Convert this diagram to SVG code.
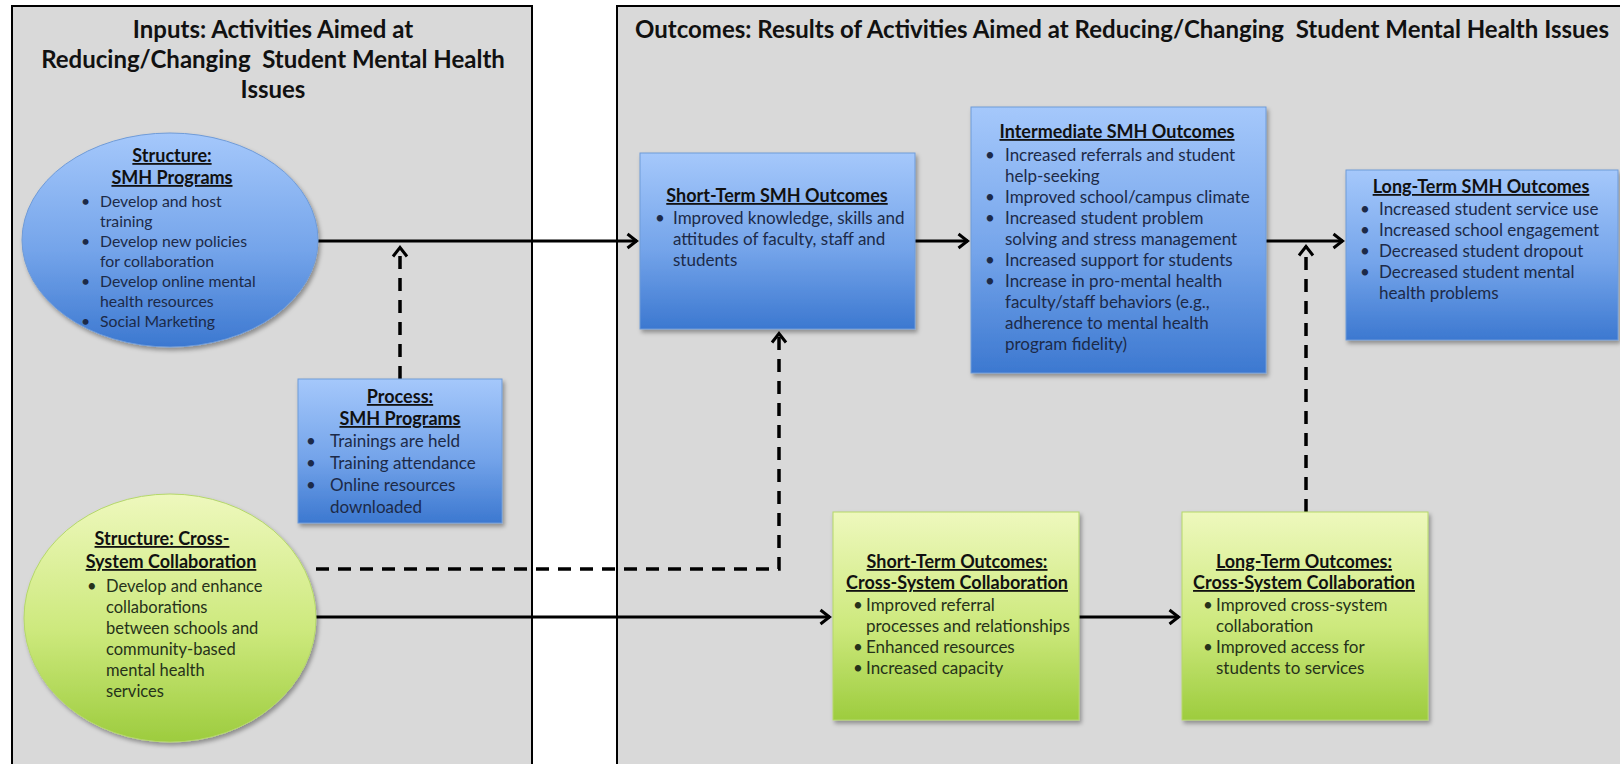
<svg xmlns="http://www.w3.org/2000/svg" width="1620" height="764" viewBox="0 0 1620 764">
<defs>
<linearGradient id="gBlue" x1="0" y1="0" x2="0" y2="1">
<stop offset="0" stop-color="#a5c8fb"/>
<stop offset="0.55" stop-color="#74a4ea"/>
<stop offset="1" stop-color="#3c78d0"/>
</linearGradient>
<linearGradient id="gGreen" x1="0" y1="0" x2="0" y2="1">
<stop offset="0" stop-color="#eef8bd"/>
<stop offset="0.55" stop-color="#cde97d"/>
<stop offset="1" stop-color="#9dcc3e"/>
</linearGradient>
<filter id="sh" x="-10%" y="-10%" width="125%" height="125%">
<feDropShadow dx="2" dy="3" stdDeviation="2" flood-color="#000" flood-opacity="0.35"/>
</filter>
<marker id="arr" viewBox="0 0 14 20" refX="11.5" refY="10" markerWidth="14" markerHeight="20" markerUnits="userSpaceOnUse" orient="auto">
<path d="M2,3 L11,10 L2,17" fill="none" stroke="#000" stroke-width="3" stroke-linejoin="miter"/>
</marker>
<style>
.panel{fill:#d9d9d9;stroke:#000;stroke-width:2}
.title{font-family:Lato,"Liberation Sans",sans-serif;font-weight:bold;font-size:24px;fill:#111;white-space:pre}
.hd{font-family:Lato,"Liberation Sans",sans-serif;font-weight:bold;font-size:18px;fill:#111;text-decoration:underline;text-anchor:middle}
.bt{font-family:Lato,"Liberation Sans",sans-serif;font-size:17px;fill:#1c2a48}
.bt1{font-family:Lato,"Liberation Sans",sans-serif;font-size:15.8px;fill:#1c2a48}
.gt{font-family:Lato,"Liberation Sans",sans-serif;font-size:17px;fill:#26321a}
.gt1{font-family:Lato,"Liberation Sans",sans-serif;font-size:16.5px;fill:#26321a}
.bbox{fill:url(#gBlue);stroke:#6f9bd8;stroke-width:1;filter:url(#sh)}
.gbox{fill:url(#gGreen);stroke:#b5d86a;stroke-width:1;filter:url(#sh)}
.solid{fill:none;stroke:#000;stroke-width:3}
.dash{fill:none;stroke:#000;stroke-width:3.5;stroke-dasharray:13 9}
</style>
</defs>
<rect width="1620" height="764" fill="#fff"/>
<g id="inputs-panel">
<rect class="panel" x="12" y="6" width="520" height="775"/>
<text class="title" text-anchor="middle" xml:space="preserve"><tspan x="273" y="38">Inputs: Activities Aimed at</tspan><tspan x="273" y="68">Reducing/Changing  Student Mental Health</tspan><tspan x="273" y="98">Issues</tspan></text>
</g>
<g id="outcomes-panel">
<rect class="panel" x="617" y="6" width="1020" height="775"/>
<text class="title" x="1122" y="38" text-anchor="middle" xml:space="preserve">Outcomes: Results of Activities Aimed at Reducing/Changing  Student Mental Health Issues</text>
</g>
<g id="connectors">
<path class="solid" d="M318,241 H637" marker-end="url(#arr)"/>
<path class="solid" d="M915,241 H968" marker-end="url(#arr)"/>
<path class="solid" d="M1266,241 H1343" marker-end="url(#arr)"/>
<path class="dash" d="M400,379 V247" marker-end="url(#arr)"/>
<path class="dash" d="M316,569 H779 V333" marker-end="url(#arr)"/>
<path class="solid" d="M316,617 H830" marker-end="url(#arr)"/>
<path class="solid" d="M1079,617 H1179" marker-end="url(#arr)"/>
<path class="dash" d="M1306,512 V246" marker-end="url(#arr)"/>
</g>
<g id="structure-smh">
<ellipse class="bbox" cx="170" cy="240" rx="148" ry="107"/>
<text class="hd" x="172" y="162">Structure:</text>
<text class="hd" x="172" y="184">SMH Programs</text>
<g class="bt1">
<text x="81" y="207">•</text><text x="100" y="207">Develop and host</text>
<text x="100" y="227">training</text>
<text x="81" y="247">•</text><text x="100" y="247">Develop new policies</text>
<text x="100" y="267">for collaboration</text>
<text x="81" y="287">•</text><text x="100" y="287">Develop online mental</text>
<text x="100" y="307">health resources</text>
<text x="81" y="327">•</text><text x="100" y="327">Social Marketing</text>
</g>
</g>
<g id="process-smh">
<rect class="bbox" x="298" y="379" width="204" height="144"/>
<text class="hd" x="400" y="403">Process:</text>
<text class="hd" x="400" y="425">SMH Programs</text>
<g class="bt">
<text x="306" y="447">•</text><text x="330" y="447">Trainings are held</text>
<text x="306" y="469">•</text><text x="330" y="469">Training attendance</text>
<text x="306" y="491">•</text><text x="330" y="491">Online resources</text>
<text x="330" y="513">downloaded</text>
</g>
</g>
<g id="short-term-smh">
<rect class="bbox" x="640" y="153" width="275" height="176"/>
<text class="hd" x="777" y="202">Short-Term SMH Outcomes</text>
<g class="bt">
<text x="655" y="224">•</text><text x="673" y="224">Improved knowledge, skills and</text>
<text x="673" y="245">attitudes of faculty, staff and</text>
<text x="673" y="266">students</text>
</g>
</g>
<g id="intermediate-smh">
<rect class="bbox" x="971" y="107" width="295" height="266"/>
<text class="hd" x="1117" y="138">Intermediate SMH Outcomes</text>
<g class="bt">
<text x="985" y="161">•</text><text x="1005" y="161">Increased referrals and student</text>
<text x="1005" y="182">help-seeking</text>
<text x="985" y="203">•</text><text x="1005" y="203">Improved school/campus climate</text>
<text x="985" y="224">•</text><text x="1005" y="224">Increased student problem</text>
<text x="1005" y="245">solving and stress management</text>
<text x="985" y="266">•</text><text x="1005" y="266">Increased support for students</text>
<text x="985" y="287">•</text><text x="1005" y="287">Increase in pro-mental health</text>
<text x="1005" y="308">faculty/staff behaviors (e.g.,</text>
<text x="1005" y="329">adherence to mental health</text>
<text x="1005" y="350">program fidelity)</text>
</g>
</g>
<g id="long-term-smh">
<rect class="bbox" x="1346" y="170" width="272" height="170"/>
<text class="hd" x="1481" y="193">Long-Term SMH Outcomes</text>
<g class="bt">
<text x="1360" y="215">•</text><text x="1379" y="215">Increased student service use</text>
<text x="1360" y="236">•</text><text x="1379" y="236">Increased school engagement</text>
<text x="1360" y="257">•</text><text x="1379" y="257">Decreased student dropout</text>
<text x="1360" y="278">•</text><text x="1379" y="278">Decreased student mental</text>
<text x="1379" y="299">health problems</text>
</g>
</g>
<g id="structure-cross">
<ellipse class="gbox" cx="170" cy="618" rx="146" ry="124"/>
<text class="hd" x="162" y="545">Structure: Cross-</text>
<text class="hd" x="171" y="568">System Collaboration</text>
<g class="gt1">
<text x="87" y="592">•</text><text x="106" y="592">Develop and enhance</text>
<text x="106" y="613">collaborations</text>
<text x="106" y="634">between schools and</text>
<text x="106" y="655">community-based</text>
<text x="106" y="676">mental health</text>
<text x="106" y="697">services</text>
</g>
</g>
<g id="short-term-cross">
<rect class="gbox" x="833" y="512" width="246" height="208"/>
<text class="hd" x="957" y="568">Short-Term Outcomes:</text>
<text class="hd" x="957" y="589">Cross-System Collaboration</text>
<g class="gt">
<text x="853" y="611">•</text><text x="866" y="611">Improved referral</text>
<text x="866" y="632">processes and relationships</text>
<text x="853" y="653">•</text><text x="866" y="653">Enhanced resources</text>
<text x="853" y="674">•</text><text x="866" y="674">Increased capacity</text>
</g>
</g>
<g id="long-term-cross">
<rect class="gbox" x="1182" y="512" width="246" height="208"/>
<text class="hd" x="1304" y="568">Long-Term Outcomes:</text>
<text class="hd" x="1304" y="589">Cross-System Collaboration</text>
<g class="gt">
<text x="1203" y="611">•</text><text x="1216" y="611">Improved cross-system</text>
<text x="1216" y="632">collaboration</text>
<text x="1203" y="653">•</text><text x="1216" y="653">Improved access for</text>
<text x="1216" y="674">students to services</text>
</g>
</g>
</svg>
